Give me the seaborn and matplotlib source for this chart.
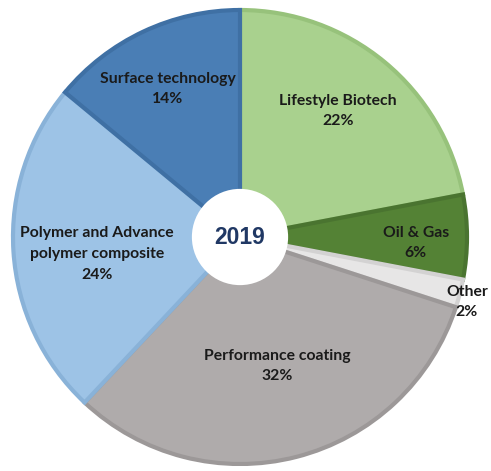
import matplotlib
matplotlib.use("Agg")
import matplotlib.pyplot as plt
import seaborn as sns
from matplotlib.patches import Circle

categories = ["Lifestyle Biotech", "Oil & Gas", "Other", "Performance coating",
              "Polymer and Advance\npolymer composite", "Surface technology"]
shares = [22, 6, 2, 32, 24, 14]
center_label = "2019"

fill_colors = ["#A9D18E", "#548235", "#E7E6E6", "#AFABAB", "#9DC3E6", "#4A7EB5"]
edge_colors = ["#97C27B", "#4A7430", "#D3D2D2", "#9C9898", "#89B2D8", "#3F70A4"]

sns.set_theme(style="white")
plt.rcParams["font.family"] = ["Lato", "DejaVu Sans"]

fig = plt.figure(figsize=(4.91, 4.71), dpi=100)
ax = fig.add_axes([0, 0, 1, 1])

wedges, _ = ax.pie(shares, colors=sns.color_palette(fill_colors), startangle=90,
                   counterclock=False, radius=1.0, center=(0, 0),
                   wedgeprops=dict(linewidth=3.0))
for w, ec in zip(wedges, edge_colors):
    w.set_edgecolor(ec)

label_pos = [(0.432, 0.555), (0.775, -0.026), (1.0, -0.286),
             (0.163, -0.568), (-0.630, -0.075), (-0.317, 0.652)]
for (x, y), name, v in zip(label_pos, categories, shares):
    ax.text(x, y, f"{name}\n{v}%", ha="center", va="center", fontsize=11.3,
            fontweight="bold", color="#1a1a1a", linespacing=1.6, clip_on=False)

ax.add_patch(Circle((0, 0), 0.212, facecolor="white", edgecolor="none", zorder=5))
ax.text(0, 0, center_label, ha="center", va="center", fontsize=16.5,
        fontweight="bold", color="#203864", family=["Liberation Sans", "DejaVu Sans"],
        zorder=6)

ax.set_xlim(-240 / 227, 251 / 227)
ax.set_ylim(-234 / 227, 237 / 227)
ax.set_aspect("auto")
ax.axis("off")

fig.savefig("out.png", dpi=100, facecolor="white")
